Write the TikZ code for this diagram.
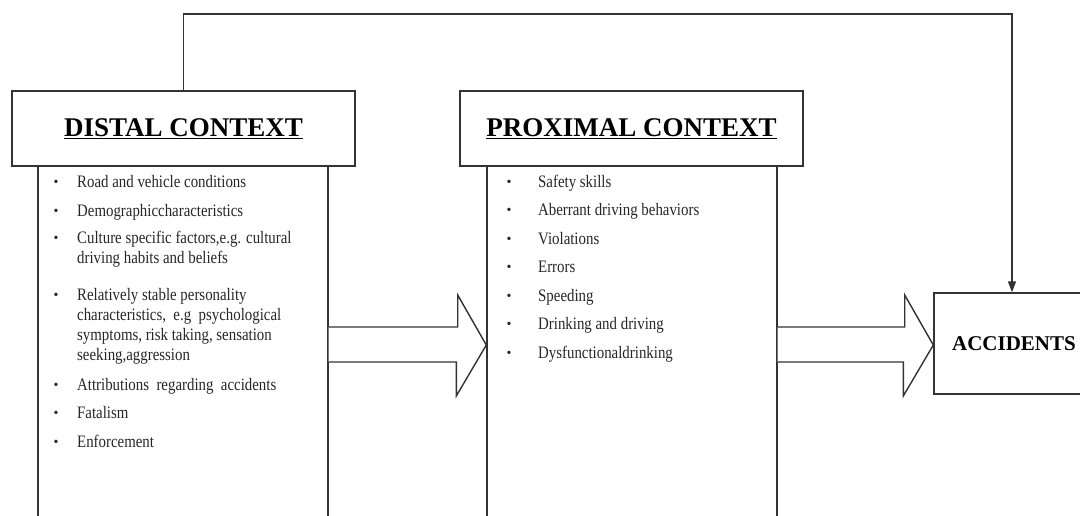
\documentclass[tikz,border=0pt]{standalone}
\usepackage{fontspec}
\setmainfont{Liberation Serif}
\newfontfamily\itemfont[FakeStretch=0.85]{Liberation Serif}
\usetikzlibrary{arrows.meta,calc}
\begin{document}
\begin{tikzpicture}[x=1pt,y=-1pt,
  line/.style={draw=black!80, line width=1.4pt},
  hbox/.style={line, fill=white, minimum width=343pt, minimum height=75pt, inner sep=0pt,
    font=\bfseries\fontsize{27}{30}\selectfont},
  bbox/.style={line, minimum width=290pt, minimum height=364pt, inner sep=0pt},
  abox/.style={line, fill=white, minimum width=160pt, minimum height=101pt, inner sep=0pt,
    font=\bfseries\fontsize{21}{24}\selectfont},
  itm/.style={anchor=base west, inner sep=0pt, text=black!85,
    font=\itemfont\fontsize{17.5}{20}\selectfont},
  bul/.style={anchor=base, inner sep=0pt, text=black!85,
    font=\fontsize{14}{14}\selectfont},
  bigarrow/.style={line, fill=white, line join=miter}
]
\useasboundingbox (0,0) rectangle (1080,515);
\clip (0,0) rectangle (1080,515);

% bodies
\node[bbox] (db) at (183,348) {};
\node[bbox] (pb) at (632,348) {};
% headers
\node[hbox] (dh) at (183.5,128.5) {\underline{DISTAL CONTEXT}};
\node[hbox] (ph) at (631.5,128.5) {\underline{PROXIMAL CONTEXT}};
% accidents
\node[abox] (acc) at (1014,343.5) {ACCIDENTS};

% big arrows
\draw[bigarrow] ($(db.east)+(0,-21)$) -- ++(129,0) -- ++(0,-32)
  -- ($(pb.west)+(0,-3)$) -- ($(pb.west)+(-30,48)$) -- ++(0,-34)
  -- ($(db.east)+(0,14)$);
\draw[bigarrow] ($(pb.east)+(0,-21)$) -- ++(127,0) -- ++(0,-32)
  -- ($(acc.west)+(0,1.5)$) -- ($(acc.west)+(-30,52.5)$) -- ++(0,-34)
  -- ($(pb.east)+(0,14)$);

% feedback connector
\coordinate (corner) at (1012,14);
\draw[line, -{Triangle[length=11pt,width=8pt]}] (dh.north) |- (corner) -- (corner |- acc.north);

% distal items
\foreach \yy/\tt [count=\i] in {
  187/{Road and vehicle conditions},
  216/{Demographiccharacteristics},
  243/{Culture specific factors,e.g. cultural},
  300/{Relatively stable personality},
  390/{Attributions\ \ regarding\ \ accidents},
  418/{Fatalism},
  447/{Enforcement}}{
  \node[bul] (db\i) at (56,\yy-1) {•};
  \node[itm] (dt\i) at (77,\yy) {\tt};
}
\node[itm] (dc2) at (77,263) {driving habits and beliefs};
\node[itm] (dr2) at (77,320) {characteristics,\ \ e.g\ \ psychological};
\node[itm] (dr3) at (77,340) {symptoms, risk taking, sensation};
\node[itm] (dr4) at (77,360) {seeking,aggression};

% proximal items
\foreach \yy/\tt [count=\i] in {
  187/{Safety skills},
  215.5/{Aberrant driving behaviors},
  244/{Violations},
  272.5/{Errors},
  301/{Speeding},
  329.5/{Drinking and driving},
  358/{Dysfunctionaldrinking}}{
  \node[bul] (pb\i) at (509,\yy-1) {•};
  \node[itm] (pt\i) at (538,\yy) {\tt};
}
\end{tikzpicture}
\end{document}
